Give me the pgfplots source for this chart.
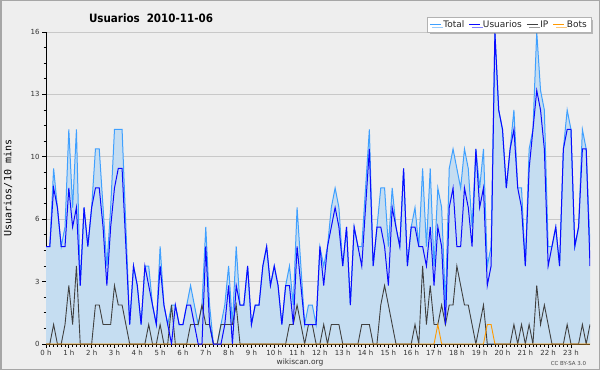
\documentclass[border=0pt]{standalone}
\usepackage{fontspec}
\setmainfont{DejaVu Sans}
\newfontfamily\monofont{DejaVu Sans Mono}
\newfontfamily\condfont{DejaVu Sans Condensed}
\usepackage{pgfplots}
\pgfplotsset{compat=1.18}
\usepackage{pgfplotstable}
\usetikzlibrary{shadows}
\definecolor{bg}{HTML}{EEEEEE}
\definecolor{totline}{HTML}{3FA0FF}
\definecolor{totfill}{HTML}{C5DDF1}
\definecolor{usr}{HTML}{0A0AFF}
\definecolor{ipc}{HTML}{404040}
\definecolor{bots}{HTML}{FF9900}
\definecolor{gridc}{HTML}{C8C8C8}

\pgfplotstableread{
i T U P B
0 5 5 0 0
1 5 5 0 0
2 9 8 1 0
3 7 7 0 0
4 5 5 0 0
5 6 5 1 0
6 11 8 3 0
7 7 6 1 0
8 11 7 4 0
9 3 3 0 0
10 7 7 0 0
11 5 5 0 0
12 7 7 0 0
13 10 8 2 0
14 10 8 2 0
15 7 6 1 0
16 4 3 1 0
17 7 6 1 0
18 11 8 3 0
19 11 9 2 0
20 11 9 2 0
21 6 5 1 0
22 1 1 0 0
23 4 4 0 0
24 3 3 0 0
25 1 1 0 0
26 4 4 0 0
27 4 3 1 0
28 2 2 0 0
29 1 1 0 0
30 5 4 1 0
31 2 2 0 0
32 1 1 0 0
33 2 0 2 0
34 2 2 0 0
35 1 1 0 0
36 1 1 0 0
37 2 2 0 0
38 3 2 1 0
39 2 1 1 0
40 1 0 1 0
41 2 0 2 0
42 6 5 1 0
43 2 1 1 0
44 0 0 0 0
45 0 0 0 0
46 1 0 1 0
47 2 1 1 0
48 4 3 1 0
49 1 0 1 0
50 5 3 2 0
51 2 2 0 0
52 2 2 0 0
53 4 4 0 0
54 1 1 0 0
55 2 2 0 0
56 2 2 0 0
57 4 4 0 0
58 5 5 0 0
59 3 3 0 0
60 4 4 0 0
61 3 3 0 0
62 1 1 0 0
63 3 3 0 0
64 4 3 1 0
65 2 1 1 0
66 7 5 2 0
67 4 3 1 0
68 1 1 0 0
69 2 1 1 0
70 2 1 1 0
71 1 1 0 0
72 5 5 0 0
73 4 3 1 0
74 5 5 0 0
75 7 6 1 0
76 8 7 1 0
77 7 6 1 0
78 4 4 0 0
79 6 6 0 0
80 2 2 0 0
81 6 6 0 0
82 5 5 0 0
83 5 4 1 0
84 8 7 1 0
85 11 10 1 0
86 4 4 0 0
87 6 6 0 0
88 8 6 2 0
89 8 5 3 0
90 5 3 2 0
91 8 7 1 0
92 6 6 0 0
93 5 5 0 0
94 9 9 0 0
95 4 4 0 0
96 6 6 0 0
97 7 6 1 0
98 5 5 0 0
99 9 5 4 0
100 5 4 1 0
101 9 6 3 0
102 4 3 1 0
103 8 6 1 1
104 7 5 2 0
105 2 1 1 0
106 9 7 2 0
107 10 8 2 0
108 9 5 4 0
109 8 5 3 0
110 10 8 2 0
111 9 7 2 0
112 6 5 1 0
113 10 10 0 0
114 8 7 1 0
115 10 8 2 0
116 4 3 0 1
117 5 4 0 1
118 16 16 0 0
119 12 12 0 0
120 11 11 0 0
121 8 8 0 0
122 10 10 0 0
123 12 11 1 0
124 8 8 0 0
125 8 7 1 0
126 4 4 0 0
127 10 9 1 0
128 11 11 0 0
129 16 13 3 0
130 13 12 1 0
131 12 10 2 0
132 5 4 1 0
133 5 5 0 0
134 6 6 0 0
135 4 4 0 0
136 10 10 0 0
137 12 11 1 0
138 11 11 0 0
139 5 5 0 0
140 6 6 0 0
141 11 10 1 0
142 10 10 0 0
143 5 4 1 0
}\data

\begin{document}
\begin{tikzpicture}[x=1pt,y=1pt]
\fill[bg] (0,0) rectangle (600,370);
\draw[black!35, line width=1.5pt] (0.75,0.75) rectangle (599.25,369.25);
\begin{axis}[
  at={(46pt,26pt)}, anchor=south west,
  width=544pt, height=312pt, scale only axis,
  xmin=0, xmax=143, ymin=0, ymax=16,
  axis x line*=bottom, axis y line*=left,
  axis line style={-, black, line width=0.9pt},
  ytick={0,3.2,6.4,9.6,12.8,16}, yticklabels={0,3,6,10,13,16},
  minor y tick num=3,
  xtick={0,6,...,138},
  xticklabels={0 h,1 h,2 h,3 h,4 h,5 h,6 h,7 h,8 h,9 h,10 h,11 h,12 h,13 h,14 h,15 h,16 h,17 h,18 h,19 h,20 h,21 h,22 h,23 h},
  minor x tick num=5,
  tick align=outside, major tick length=4pt, minor tick length=2.5pt,
  tick style={black, line width=0.7pt},
  ymajorgrids, grid style={gridc, line width=0.8pt},
  tick label style={font=\fontsize{7}{8}\selectfont, text=black!80},
  xticklabel style={yshift=1pt},
  yticklabel style={xshift=1pt},
  legend columns=4,
  legend style={at={(1,1)}, anchor=south east, yshift=0pt, xshift=1pt,
    draw=black!30, fill=white, font=\fontsize{9}{10}\selectfont, text=black!85,
    drop shadow={shadow xshift=2.5pt, shadow yshift=-2.5pt, fill=black!50},
    inner xsep=2pt, inner ysep=1pt,
    /tikz/every even column/.append style={column sep=2.5pt}},
  legend image code/.code={\draw[#1] (0pt,0pt) -- (11pt,0pt);},
]
\addplot[fill=totfill, draw=none, forget plot] table[x=i, y=T] {\data} \closedcycle;
\addplot[totline, line width=1pt, forget plot] table[x=i, y=T] {\data};
\addplot[ipc, line width=0.9pt, forget plot] table[x=i, y=P] {\data};
\addplot[bots, line width=0.9pt, forget plot] table[x=i, y=B] {\data};
\addplot[usr, line width=1pt, forget plot] table[x=i, y=U] {\data};
\addlegendimage{totline, line width=1pt}
\addlegendentry{Total}
\addlegendimage{usr, line width=1pt}
\addlegendentry{Usuarios}
\addlegendimage{ipc, line width=1pt}
\addlegendentry{IP}
\addlegendimage{bots, line width=1pt}
\addlegendentry{Bots}
\end{axis}
\node[font=\condfont\bfseries\fontsize{11.5}{13}\selectfont] at (151,352) {Usuarios\hspace{0.6em}2010-11-06};
\node[rotate=90, font=\monofont\fontsize{10}{11}\selectfont] at (8,182) {Usuarios/10 mins};
\node[font=\fontsize{7.5}{9}\selectfont, text=black!80] at (300,8) {wikiscan.org};
\node[font=\fontsize{5.5}{7}\selectfont, text=black!70] at (568.5,6.5) {CC BY-SA 3.0};
\end{tikzpicture}
\end{document}
